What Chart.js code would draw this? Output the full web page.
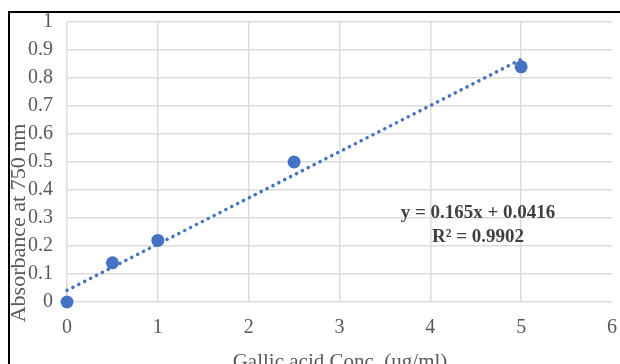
<!DOCTYPE html>
<html>
<head>
<meta charset="utf-8">
<script src="https://cdn.jsdelivr.net/npm/chart.js@4/dist/chart.umd.min.js"></script>
<style>
html,body{margin:0;padding:0;background:#fff;}
#wrap{position:relative;width:620px;height:364px;}
</style>
</head>
<body>
<div id="wrap"><canvas id="c" width="620" height="364"></canvas></div>
<script>
// Data
const concX = [0, 0.5, 1, 2.5, 5];
const absorbanceY = [0, 0.14, 0.22, 0.5, 0.84];
const trendX = [0, 5];
const trendY = [0.0416, 0.8666];
const xTickLabels = ['0', '1', '2', '3', '4', '5', '6'];
const yTickLabels = ['0', '0.1', '0.2', '0.3', '0.4', '0.5', '0.6', '0.7', '0.8', '0.9', '1'];
const xTitle = 'Gallic acid Conc. (ug/ml)';
const yTitle = 'Absorbance at 750 nm';
const equationLines = ['y = 0.165x + 0.0416', 'R² = 0.9902'];

const BLUE = '#4472C4';
const GREY = '#595959';
const SERIF = '"Liberation Serif", "Times New Roman", serif';

const decor = {
  id: 'decor',
  afterDraw(chart) {
    const ctx = chart.ctx;
    ctx.save();
    // outer frame (top and left)
    ctx.strokeStyle = '#000';
    ctx.lineWidth = 2;
    ctx.beginPath();
    ctx.moveTo(9, 364);
    ctx.lineTo(9, 12);
    ctx.lineTo(620, 12);
    ctx.stroke();
    // y title
    ctx.fillStyle = GREY;
    ctx.font = '22px ' + SERIF;
    ctx.textAlign = 'center';
    ctx.textBaseline = 'middle';
    ctx.save();
    ctx.translate(19, 223);
    ctx.rotate(-Math.PI / 2);
    ctx.fillText(yTitle, 0, 0);
    ctx.restore();
    // x title
    ctx.font = '21px ' + SERIF;
    ctx.fillText(xTitle, 340, 362);
    // equation
    ctx.font = 'bold 19px ' + SERIF;
    ctx.fillStyle = '#404040';
    ctx.fillText(equationLines[0], 478, 213);
    ctx.fillText(equationLines[1], 478, 237);
    ctx.restore();
  }
};

new Chart(document.getElementById('c'), {
  type: 'scatter',
  data: {
    datasets: [
      {
        label: 'Trendline',
        type: 'line',
        data: trendX.map((x, i) => ({x: x, y: trendY[i]})),
        borderColor: BLUE,
        borderWidth: 3.5,
        borderDash: [0.1, 6.5],
        borderCapStyle: 'round',
        pointRadius: 0,
        fill: false,
        clip: false,
        order: 2
      },
      {
        label: 'Absorbance',
        data: concX.map((x, i) => ({x: x, y: absorbanceY[i]})),
        backgroundColor: BLUE,
        borderColor: BLUE,
        pointRadius: 6.5,
        pointBorderWidth: 0,
        clip: false,
        order: 1
      }
    ]
  },
  options: {
    responsive: false,
    animation: false,
    events: [],
    layout: {padding: {left: 0, right: 8, top: 22, bottom: 0}},
    plugins: {legend: {display: false}, tooltip: {enabled: false}},
    scales: {
      x: {
        type: 'linear', min: 0, max: 6,
        border: {display: false},
        grid: {
          color: (c) => (c.tick && c.tick.value === 6) ? 'rgba(0,0,0,0)' : '#dcdcdc',
          lineWidth: 1.5, drawTicks: false
        },
        ticks: {
          stepSize: 1, padding: 14, color: GREY,
          font: {family: SERIF, size: 20},
          maxRotation: 0,
          callback: (v) => xTickLabels[Math.round(v)]
        },
        afterFit(s) { s.height = 62; s.paddingLeft = 0; s.paddingRight = 0; }
      },
      y: {
        type: 'linear', min: 0, max: 1,
        border: {display: false},
        grid: {color: '#dcdcdc', lineWidth: 1.5, drawTicks: false},
        ticks: {
          stepSize: 0.1, padding: 14, color: GREY,
          font: {family: SERIF, size: 20},
          callback: (v) => yTickLabels[Math.round(v * 10)]
        },
        afterFit(s) { s.width = 67; s.paddingTop = 0; s.paddingBottom = 0; }
      }
    }
  },
  plugins: [decor]
});
</script>
</body>
</html>
